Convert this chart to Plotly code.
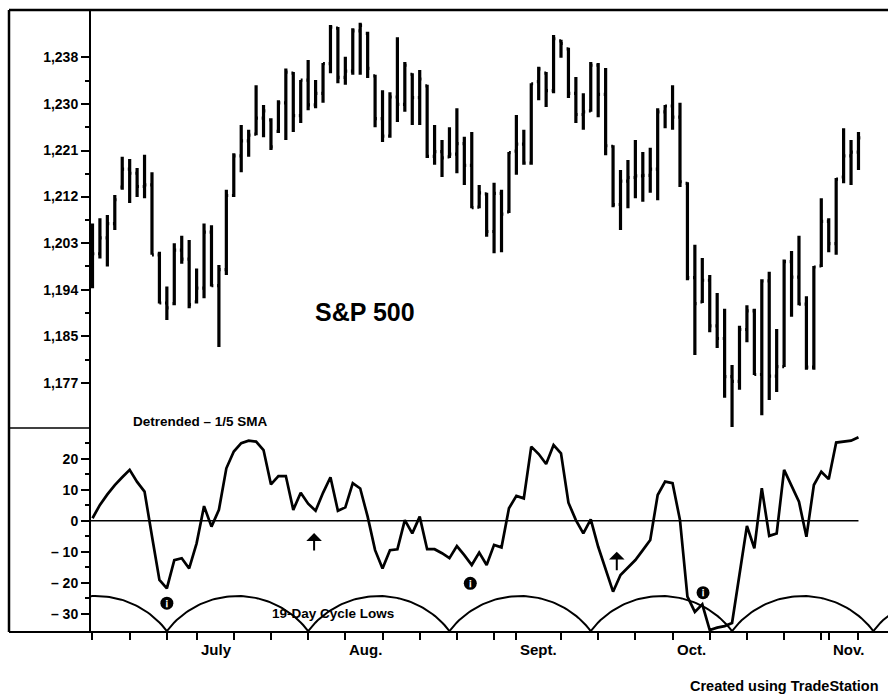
import numpy as np
import plotly.graph_objects as go

# ---------------------------------------------------------------------------
# Daily bars, indexed by trading session (0 = first session of July)
# ---------------------------------------------------------------------------
day_index = list(range(-14, 90))

price_high = [
    1206.6, 1207.6, 1208.2, 1212.0, 1219.2, 1218.8, 1217.1, 1219.6, 1216.3, 1201.3,
    1194.7, 1202.9, 1204.3, 1203.5, 1198.1, 1206.6, 1206.3, 1198.8, 1213.0, 1219.9,
    1225.2, 1224.3, 1232.7, 1229.0, 1226.5, 1229.9, 1235.9, 1235.2, 1233.7, 1237.5,
    1233.7, 1236.9, 1244.1, 1243.7, 1238.1, 1243.5, 1244.5, 1242.8, 1234.7, 1231.8,
    1231.4, 1241.8, 1237.1, 1235.0, 1235.6, 1232.8, 1225.2, 1222.4, 1224.8, 1228.4,
    1223.0, 1223.9, 1213.9, 1212.4, 1214.3, 1213.0, 1220.1, 1227.1, 1224.3, 1233.1,
    1236.2, 1235.2, 1242.2, 1241.3, 1239.8, 1234.3, 1231.2, 1237.1, 1236.9, 1236.0,
    1221.4, 1216.7, 1218.6, 1222.4, 1220.1, 1220.9, 1228.4, 1229.0, 1232.7, 1229.4,
    1214.4, 1202.6, 1200.1, 1196.9, 1193.5, 1190.5, 1179.9, 1187.3, 1191.2, 1190.5,
    1196.1, 1197.5, 1186.7, 1199.8, 1201.4, 1204.3, 1192.9, 1198.6, 1211.4, 1207.6,
    1215.2, 1224.6, 1222.4, 1223.9,
]
price_low = [
    1194.4, 1200.0, 1198.5, 1205.4, 1213.0, 1210.5, 1211.6, 1211.4, 1200.7, 1191.5,
    1188.4, 1191.2, 1199.0, 1190.6, 1191.5, 1192.5, 1194.7, 1183.3, 1196.9, 1211.6,
    1216.3, 1219.2, 1223.3, 1222.9, 1220.5, 1223.7, 1222.4, 1223.9, 1225.6, 1228.0,
    1228.4, 1229.4, 1235.0, 1233.1, 1232.8, 1234.7, 1234.7, 1234.1, 1224.8, 1222.0,
    1222.8, 1225.8, 1227.7, 1225.2, 1225.2, 1219.0, 1217.7, 1215.4, 1219.0, 1216.1,
    1213.9, 1209.5, 1209.5, 1204.1, 1201.0, 1201.2, 1208.6, 1215.8, 1217.7, 1217.7,
    1229.9, 1228.6, 1231.2, 1237.9, 1230.3, 1225.6, 1224.3, 1227.7, 1226.7, 1219.5,
    1209.7, 1205.4, 1209.5, 1211.4, 1210.7, 1212.4, 1211.0, 1224.6, 1224.3, 1213.5,
    1195.9, 1181.8, 1191.6, 1186.1, 1183.1, 1173.7, 1168.2, 1175.2, 1184.2, 1178.0,
    1170.4, 1173.3, 1174.8, 1179.5, 1189.0, 1191.2, 1179.0, 1179.0, 1198.4, 1201.2,
    1200.7, 1214.2, 1213.9, 1216.7,
]
price_open = [
    1199.0, 1200.9, 1203.9, 1206.6, 1213.5, 1216.9, 1216.1, 1213.6, 1213.9, 1200.7,
    1191.6, 1191.5, 1201.6, 1199.9, 1191.8, 1194.4, 1205.0, 1194.9, 1197.9, 1211.9,
    1219.4, 1222.2, 1223.5, 1226.5, 1226.2, 1224.0, 1229.4, 1235.0, 1227.0, 1233.7,
    1229.0, 1231.2, 1236.8, 1243.5, 1234.2, 1235.4, 1243.0, 1242.5, 1234.5, 1226.4,
    1223.1, 1230.5, 1229.1, 1234.8, 1230.4, 1232.6, 1219.3, 1220.2, 1219.2, 1219.7,
    1221.7, 1217.6, 1209.7, 1212.2, 1205.1, 1212.3, 1208.8, 1220.3, 1221.6, 1218.0,
    1233.4, 1235.0, 1231.7, 1241.1, 1239.6, 1231.2, 1227.2, 1227.9, 1236.5, 1231.0,
    1221.2, 1210.2, 1214.6, 1215.3, 1215.6, 1215.7, 1216.9, 1227.7, 1228.8, 1226.7,
    1214.2, 1196.4, 1191.8, 1195.9, 1187.3, 1184.9, 1177.7, 1176.8, 1186.6, 1190.1,
    1178.1, 1195.8, 1177.8, 1179.6, 1199.4, 1196.5, 1191.4, 1179.5, 1198.6, 1207.0,
    1202.8, 1215.4, 1219.4, 1220.1,
]
price_close = [
    1200.9, 1203.9, 1206.6, 1211.1, 1216.9, 1216.1, 1213.6, 1213.9, 1200.7, 1191.6,
    1190.7, 1201.6, 1199.9, 1191.3, 1194.4, 1205.0, 1194.9, 1197.9, 1211.9, 1219.4,
    1222.2, 1223.3, 1226.5, 1227.9, 1221.1, 1229.4, 1235.2, 1227.0, 1233.7, 1229.0,
    1231.2, 1236.8, 1243.7, 1234.2, 1235.4, 1243.0, 1244.0, 1235.9, 1226.4, 1223.1,
    1230.5, 1229.1, 1236.5, 1230.4, 1233.9, 1219.3, 1220.2, 1219.0, 1219.7, 1221.7,
    1217.6, 1209.6, 1212.4, 1205.1, 1212.3, 1208.4, 1220.0, 1221.6, 1218.0, 1233.0,
    1235.8, 1231.7, 1241.5, 1240.6, 1231.2, 1227.2, 1227.7, 1236.5, 1231.0, 1221.3,
    1210.2, 1214.6, 1215.3, 1215.6, 1215.7, 1216.9, 1227.7, 1228.8, 1226.7, 1214.5,
    1196.4, 1191.5, 1195.9, 1187.3, 1184.9, 1177.7, 1176.8, 1186.6, 1190.1, 1178.1,
    1195.8, 1177.8, 1179.6, 1199.4, 1196.5, 1191.4, 1179.5, 1198.4, 1207.0, 1202.8,
    1215.0, 1219.4, 1220.1, 1222.8,
]

# Detrended oscillator (close minus 1/5 SMA), one value per session
detrended = [
    0.8, 5.1, 8.5, 11.5, 14.0, 16.4, 12.5, 9.4, -5.0, -19.1,
    -21.8, -12.7, -12.1, -15.4, -7.3, 4.7, -1.9, 3.5, 16.9, 22.3,
    25.0, 25.8, 25.5, 22.8, 11.7, 14.4, 14.4, 3.5, 9.0, 5.5,
    3.2, 9.0, 14.0, 3.2, 4.3, 12.1, 10.4, 1.3, -9.5, -15.4,
    -9.5, -9.2, 0.2, -4.1, 1.3, -9.2, -9.2, -10.5, -12.1, -8.2,
    -11.1, -14.3, -10.3, -14.3, -7.8, -8.6, 4.0, 8.0, 7.2, 23.9,
    21.5, 18.3, 24.4, 21.7, 5.8, 0.2, -4.1, 0.4, -8.4, -16.0,
    -22.9, -17.5, -15.0, -12.7, -9.5, -6.2, 8.3, 12.6, 12.1, 0.2,
    -24.5, -29.4, -27.0, -35.3, -34.5, -34.0, -33.0, -17.0, -1.7, -8.9,
    10.5, -4.9, -4.1, 16.4, 11.5, 6.1, -5.2, 11.5, 15.8, 13.4,
    25.2, 25.5, 25.8, 26.9,
]

# 19-day cycle lows (session index) and annotation marks
cycle_low_days = [-23, -4, 15, 34, 53, 72, 91, 110]
signal_days = [-4.0, 36.8, 68.1]
signal_levels = [-26.6, -20.2, -23.2]
arrow_days = [15.8, 56.5]
arrow_tips = [-4.0, -10.0]
arrow_tails = [-10.1, -16.5]

# Axis ticks
week_start_days = [-14, -9, -4, 5, 10, 15, 20, 25, 30, 35, 40, 49, 54, 59, 64,
                   69, 74, 79, 84, 89]
month_start_days = [0, 20, 43, 64, 85]
month_labels = ["July", "Aug.", "Sept.", "Oct.", "Nov."]

price_tick_values = [1176.5, 1185.3, 1194.1, 1202.9, 1211.7, 1220.4, 1229.2, 1238.0]
price_tick_labels = ["1,177", "1,185", "1,194", "1,203", "1,212", "1,221", "1,230", "1,238"]
osc_tick_values = [-30, -20, -10, 0, 10, 20]
osc_tick_labels = ["\u2013 30", "\u2013 20", "\u2013 10", "0", "10", "20"]
osc_minor_values = [-25, -15, -5, 5, 15, 25]

# ---------------------------------------------------------------------------
W, H = 888, 696
FONT = "Liberation Sans, Arial, sans-serif"


def px(x):
    return x / W


def py(y):
    return 1 - y / H


X_RANGE = [-14.2, 92.97]
CYCLE_TOP = -24.3
CYCLE_BASE = -35.6

fig = go.Figure()

fig.add_trace(go.Ohlc(
    x=day_index, open=price_open, high=price_high, low=price_low, close=price_close,
    increasing=dict(line=dict(color="black", width=3.2)),
    decreasing=dict(line=dict(color="black", width=3.2)),
    tickwidth=0.25, xaxis="x", yaxis="y", hoverinfo="skip",
))

fig.add_trace(go.Scatter(
    x=day_index, y=detrended, mode="lines",
    line=dict(color="black", width=2.7), xaxis="x", yaxis="y2", hoverinfo="skip",
))

# Cycle arcs: circular segments joining consecutive cycle lows
arc_x, arc_y = [], []
bulge = 0.5
r = (1 + bulge * bulge) / (2 * bulge)
t = np.linspace(-1, 1, 60)
h = (np.sqrt(r * r - t * t) - (r - bulge)) / bulge
for a, b in zip(cycle_low_days[:-1], cycle_low_days[1:]):
    arc_x += list(a + (t + 1) / 2 * (b - a)) + [None]
    arc_y += list(CYCLE_BASE + (CYCLE_TOP - CYCLE_BASE) * h) + [None]
fig.add_trace(go.Scatter(
    x=arc_x, y=arc_y, mode="lines", line=dict(color="black", width=2),
    xaxis="x", yaxis="y2", hoverinfo="skip", connectgaps=False,
))

fig.add_trace(go.Scatter(
    x=signal_days, y=signal_levels, mode="markers+text",
    marker=dict(size=13, color="black"),
    text=["\u00a1"] * len(signal_days), textposition="middle center",
    textfont=dict(family=FONT, size=11, color="white", weight="bold"),
    xaxis="x", yaxis="y2", hoverinfo="skip", cliponaxis=False,
))

annotations = []
for d, tip, tail in zip(arrow_days, arrow_tips, arrow_tails):
    annotations.append(dict(
        x=d, y=tip, ax=d, ay=tail, xref="x", yref="y2", axref="x", ayref="y2",
        text="", showarrow=True, arrowhead=1, arrowsize=1.3, arrowwidth=2,
        arrowcolor="black", standoff=0,
    ))

for d, lab in zip(month_start_days, month_labels):
    annotations.append(dict(
        x=d, y=py(649), xref="x", yref="paper", text=lab, showarrow=False,
        xanchor="left", yanchor="middle", xshift=2,
        font=dict(family=FONT, size=15, color="black", weight="bold"),
    ))

annotations += [
    dict(x=px(365), y=py(312), xref="paper", yref="paper", text="S&P 500",
         showarrow=False, xanchor="center", yanchor="middle",
         font=dict(family=FONT, size=25, color="black", weight="bold")),
    dict(x=px(131), y=py(421), xref="paper", yref="paper", text="Detrended \u2013 1/5 SMA",
         showarrow=False, xanchor="left", yanchor="middle",
         font=dict(family=FONT, size=13.5, color="black", weight="bold")),
    dict(x=px(270), y=py(613), xref="paper", yref="paper", text="19-Day Cycle Lows",
         showarrow=False, xanchor="left", yanchor="middle",
         font=dict(family=FONT, size=13.5, color="black", weight="bold")),
    dict(x=px(688), y=0, xref="paper", yref="paper", text="Created using TradeStation",
         showarrow=False, xanchor="left", yanchor="bottom",
         font=dict(family=FONT, size=14.5, color="black", weight="bold")),
]

# Frame lines
frame = dict(type="line", xref="paper", yref="paper", line=dict(color="black"))
shapes = [
    {**frame, "x0": px(9), "x1": 1, "y0": py(10), "y1": py(10), "line": dict(color="black", width=2.5)},
    {**frame, "x0": px(9), "x1": px(9), "y0": py(10), "y1": py(632), "line": dict(color="black", width=2.5)},
    {**frame, "x0": px(9), "x1": 1, "y0": py(632), "y1": py(632), "line": dict(color="black", width=2)},
    {**frame, "x0": px(9), "x1": px(91), "y0": py(428), "y1": py(428), "line": dict(color="black", width=1.5)},
    dict(type="line", xref="x", yref="y2", x0=X_RANGE[0], x1=day_index[-1], y0=0, y1=0,
         line=dict(color="black", width=1.5)),
]

tickfont = dict(family=FONT, size=14, color="black", weight="bold")
price_minor = [(a + b) / 2 for a, b in zip(price_tick_values[:-1], price_tick_values[1:])]

fig.update_layout(
    width=W, height=H, margin=dict(l=0, r=0, t=0, b=0),
    paper_bgcolor="white", plot_bgcolor="white", showlegend=False,
    annotations=annotations, shapes=shapes,
    xaxis=dict(
        domain=[px(91), 1], range=X_RANGE, anchor="y2",
        tickmode="array", tickvals=sorted(set(week_start_days + month_start_days)),
        showticklabels=False, ticks="outside", ticklen=7, tickwidth=1.5, tickcolor="black",
        showgrid=False, zeroline=False, showline=False,
        rangeslider=dict(visible=False),
    ),
    yaxis=dict(
        domain=[py(428), py(10)], range=[1168.0, 1246.93], anchor="x",
        tickmode="array", tickvals=price_tick_values, ticktext=price_tick_labels,
        ticks="outside", ticklen=8, tickwidth=2, tickcolor="black", tickfont=tickfont,
        showgrid=False, zeroline=False, showline=True, linewidth=2, linecolor="black",
        minor=dict(tickmode="array", tickvals=price_minor, ticks="outside", ticklen=4,
                   tickwidth=1.5, tickcolor="black", showgrid=False),
    ),
    yaxis2=dict(
        domain=[py(632), py(428)], range=[-35.9, 29.9], anchor="x",
        tickmode="array", tickvals=osc_tick_values, ticktext=osc_tick_labels,
        ticks="outside", ticklen=8, tickwidth=2, tickcolor="black", tickfont=tickfont,
        showgrid=False, zeroline=False, showline=True, linewidth=2, linecolor="black",
        minor=dict(tickmode="array", tickvals=osc_minor_values, ticks="outside", ticklen=4,
                   tickwidth=1.5, tickcolor="black", showgrid=False),
    ),
)

fig.write_html("out.html")
